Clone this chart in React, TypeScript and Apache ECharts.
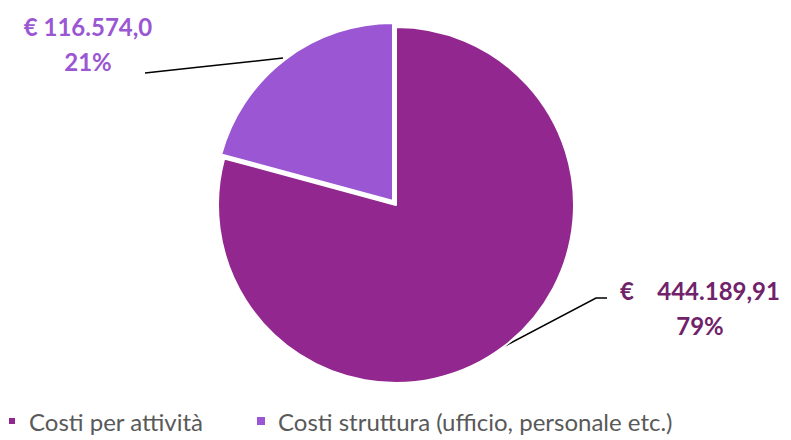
import React, { useEffect, useRef } from "react";
import * as echarts from "echarts";

const categories = ["Costi per attività", "Costi struttura (ufficio, personale etc.)"];
const values = [444189.91, 116574.0];
const valueLabels = ["€    444.189,91", "€ 116.574,0"];
const colors = ["#92278F", "#9B57D3"];
const labelColors = ["#70226A", "#9B57D3"];

export default function App() {
  const ref = useRef<HTMLDivElement>(null);
  useEffect(() => {
    document.body.style.margin = "0";
    const chart = echarts.init(ref.current!, null, { renderer: "svg" });
    const font = "Lato, 'Open Sans', sans-serif";
    const layouts = [
      { x: 700, y: 308, pts: [[505, 346], [596, 298], [607, 298]] },
      { x: 88, y: 44, pts: [[283, 58], [200, 67], [145, 73]] },
    ];
    const centers = [
      [396, 205],
      [393, 201],
    ];
    const legendCommon = {
      top: 406,
      padding: 0,
      icon: "rect",
      itemWidth: 8,
      itemHeight: 8,
      textStyle: { fontSize: 24, lineHeight: 30, color: "#595959", fontFamily: font, padding: [0, 0, 0, 8] },
    };
    chart.setOption({
      animation: false,
      legend: [
        {
          ...legendCommon,
          left: 7,
          data: [{ name: categories[0], itemStyle: { color: colors[0] } }],
        },
        {
          ...legendCommon,
          left: 257,
          data: [{ name: categories[1], itemStyle: { color: colors[1] } }],
        },
      ],
      series: [0, 1].map((s) => ({
        type: "pie",
        center: centers[s],
        radius: [0, 178],
        startAngle: 90,
        clockwise: true,
        silent: true,
        percentPrecision: 0,
        data: categories.map((c, i) => ({
          name: c,
          value: values[i],
          itemStyle:
            i === s
              ? { color: colors[i], borderColor: "#ffffff", borderWidth: 2 }
              : { color: "rgba(0,0,0,0)", borderWidth: 0 },
          label: { show: i === s, color: labelColors[i] },
          labelLine: { show: i === s },
        })),
        label: {
          position: "outside",
          fontFamily: font,
          fontSize: 24,
          fontWeight: "bold",
          lineHeight: 35,
          align: "center",
          formatter: (p: any) => valueLabels[p.dataIndex] + "\n" + p.percent + "%",
        },
        labelLine: {
          lineStyle: { color: "#000000", width: 1.5 },
        },
        labelLayout: (p: any) => {
          const l = layouts[p.dataIndex];
          return {
            x: l.x,
            y: l.y,
            align: "center",
            verticalAlign: "middle",
            labelLinePoints: l.pts,
          };
        },
      })),
    });
    return () => chart.dispose();
  }, []);
  return <div ref={ref} style={{ width: 791, height: 440 }} />;
}
